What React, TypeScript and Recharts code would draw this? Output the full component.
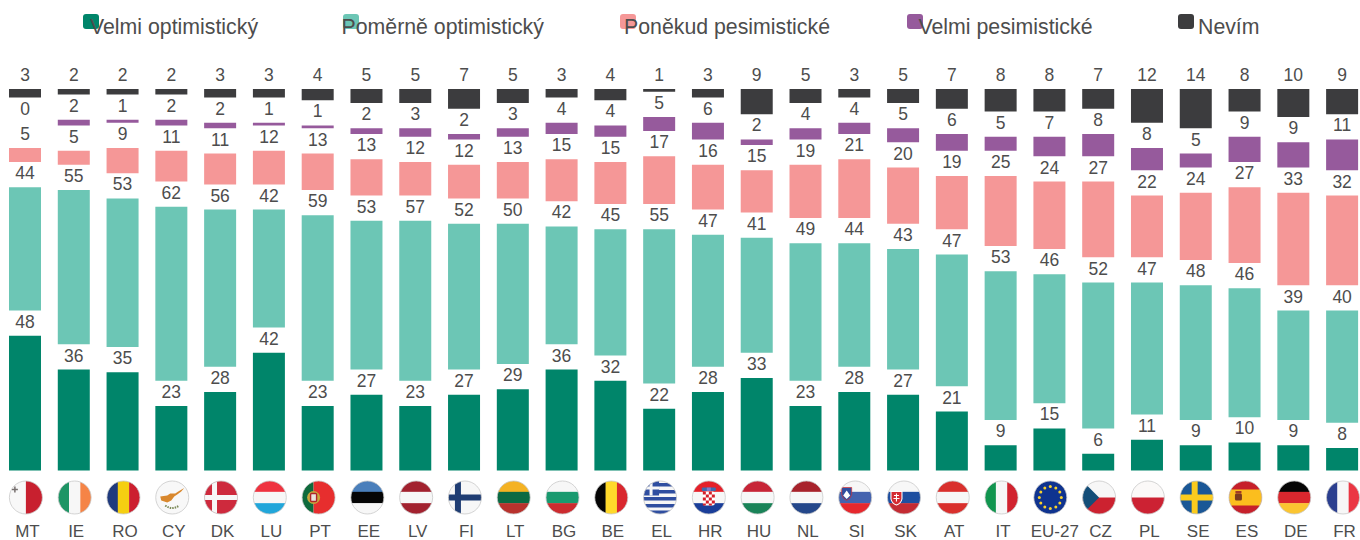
import { BarChart, Bar, XAxis, YAxis, Legend, LabelList } from "recharts";

const countries = ["MT","IE","RO","CY","DK","LU","PT","EE","LV","FI","LT","BG","BE","EL","HR","HU","NL","SI","SK","AT","IT","EU-27","CZ","PL","SE","ES","DE","FR"];
const veryOptimistic = [48,36,35,23,28,42,23,27,23,27,29,36,32,22,28,33,23,28,27,21,9,15,6,11,9,10,9,8];
const fairlyOptimistic = [44,55,53,62,56,42,59,53,57,52,50,42,45,55,47,41,49,44,43,47,53,46,52,47,48,46,39,40];
const fairlyPessimistic = [5,5,9,11,11,12,13,13,12,12,13,15,15,17,16,15,19,21,20,19,25,24,27,22,24,27,33,32];
const veryPessimistic = [0,2,1,2,2,1,1,2,3,2,3,4,4,5,6,2,4,4,5,6,5,7,8,8,5,9,9,11];
const dontKnow = [3,2,2,2,3,3,4,5,5,7,5,3,4,1,3,9,5,3,5,7,8,8,7,12,14,8,10,9];

// empty band between the stacked segments, it holds the value labels
const GAP = 9;

const data = countries.map((code, i) => ({
  code,
  a: veryOptimistic[i],
  gap1: GAP,
  b: fairlyOptimistic[i],
  gap2: GAP,
  c: fairlyPessimistic[i],
  gap3: GAP,
  d: veryPessimistic[i],
  gap4: GAP,
  e: dontKnow[i],
}));

const TEXT = "#4d4d4d";
const FONT = "'Liberation Sans', Arial, sans-serif";

const legendPlace: Record<string, { icon: number; text: number }> = {
  "Velmi optimistický": { icon: 83, text: 90 },
  "Poměrně optimistický": { icon: 343, text: 341.5 },
  "Poněkud pesimistické": { icon: 620, text: 624 },
  "Velmi pesimistické": { icon: 907, text: 918.5 },
  "Nevím": { icon: 1178, text: 1198 },
};

function ChartLegend({ payload }: any) {
  return (
    <div style={{ position: "relative", height: 0 }}>
      {(payload || []).filter((p: any) => legendPlace[p.value]).map((p: any) => (
        <div key={p.value}>
          <div style={{ position: "absolute", left: legendPlace[p.value].icon, top: 14, width: 16, height: 15, borderRadius: 3, background: p.color }} />
          <div style={{ position: "absolute", left: legendPlace[p.value].text, top: 15, fontSize: 21.3, lineHeight: "24px", color: TEXT, fontFamily: FONT, whiteSpace: "nowrap" }}>{p.value}</div>
        </div>
      ))}
    </div>
  );
}

const horizontal: Record<string, string[]> = {
  LU: ["#ef3340", "#f7f7f7", "#21a6da"],
  EE: ["#4a7fbb", "#050505", "#f7f7f7"],
  LV: ["#a2222f", "#f7f7f7", "#a2222f"],
  LT: ["#f4b223", "#0b6a43", "#b8322d"],
  BG: ["#f7f7f7", "#199a6f", "#cc2b2f"],
  HR: ["#e5202a", "#f7f7f7", "#1a3e99"],
  HU: ["#c72537", "#f7f7f7", "#1a8358"],
  NL: ["#a8232c", "#f7f7f7", "#24478a"],
  SI: ["#f7f7f7", "#4463af", "#e6282e"],
  SK: ["#f7f7f7", "#1e4fa0", "#c42b33"],
  AT: ["#d9302d", "#f7f7f7", "#d9302d"],
  DE: ["#050505", "#d9272e", "#fbc531"],
};
const vertical: Record<string, string[]> = {
  IE: ["#1e9565", "#f7f7f7", "#f58446"],
  RO: ["#1f3a7d", "#f5cf11", "#cc1f2f"],
  BE: ["#050505", "#ffd92b", "#d9272e"],
  IT: ["#11954f", "#f7f7f7", "#d1232f"],
  FR: ["#2b3f8f", "#f7f7f7", "#eb3643"],
};

function Stripes({ colors, dir }: { colors: string[]; dir: "h" | "v" }) {
  return (
    <>
      {colors.map((c, i) =>
        dir === "h" ? (
          <rect key={i} x={-17} y={-17 + (i * 34) / 3} width={34} height={34 / 3 + 0.3} fill={c} />
        ) : (
          <rect key={i} x={-17 + (i * 34) / 3} y={-17} width={34 / 3 + 0.3} height={34} fill={c} />
        )
      )}
    </>
  );
}

function Cross({ bg, fg, x, w }: { bg: string; fg: string; x: number; w: number }) {
  return (
    <>
      <rect x={-17} y={-17} width={34} height={34} fill={bg} />
      <rect x={x} y={-17} width={w} height={34} fill={fg} />
      <rect x={-17} y={-w / 2} width={34} height={w} fill={fg} />
    </>
  );
}

function FlagArt({ code }: { code: string }) {
  if (horizontal[code]) {
    return (
      <>
        <Stripes colors={horizontal[code]} dir="h" />
        {code === "HR" && (
          <>
            <rect x={-6} y={-6} width={12} height={14} rx={2.5} fill="#fff" />
            {[-6, -3, 0, 3, 6].map((y, r) =>
              [-6, -3, 0, 3].filter((_, c) => (c + r) % 2 === 0).map((x) => (
                <rect key={`${x}${y}`} x={x} y={y} width={3} height={Math.min(3, 8 - y)} fill="#d5202a" />
              ))
            )}
            <rect x={-7} y={-10} width={14} height={3.4} rx={1} fill="#3c6bb0" />
            <rect x={-2} y={-10} width={4} height={3.4} fill="#a8d" opacity={0.6} />
          </>
        )}
        {code === "SI" && (
          <>
            <path d="M-13.5,-10 h10 v7 q-1,4.5 -5,6 q-4,-1.5 -5,-6 z" fill="#2f4ea0" stroke="#d33" strokeWidth={0.7} />
            <path d="M-12,-2 l3.5,-5 l3.5,5 l-3.5,3.5 z" fill="#fff" />
          </>
        )}
        {code === "SK" && (
          <>
            <path d="M-13,-6 h11 v7.5 q-1,4.5 -5.5,6 q-4.5,-1.5 -5.5,-6 z" fill="#d42b33" stroke="#fff" strokeWidth={1.1} />
            <path d="M-7.5,-4 v8 M-10,-2 h5 M-10.5,1 h6" stroke="#fff" strokeWidth={1.1} />
          </>
        )}
      </>
    );
  }
  if (vertical[code]) return <Stripes colors={vertical[code]} dir="v" />;
  switch (code) {
    case "MT":
      return (
        <>
          <rect x={-17} y={-17} width={17} height={34} fill="#f8f8f8" />
          <rect x={0} y={-17} width={17} height={34} fill="#c8202f" />
          <path d="M-11,-11 v6 M-14,-8 h6" stroke="#77706f" strokeWidth={1.5} />
        </>
      );
    case "CY":
      return (
        <>
          <rect x={-17} y={-17} width={34} height={34} fill="#f8f8f8" />
          <path d="M-12,-1 l7,-1 l3,-2 l5,0 l3,-2 l6,-3.5 l-3,3.5 l-4,3 l-3,2 l-3,4 l-4,2 l-3,-1 l-3,-1 z" fill="#d9882e" />
          <path d="M-7,8 q7,5 14,0" fill="none" stroke="#7c8a58" strokeWidth={2} strokeDasharray="1.5 1" />
        </>
      );
    case "DK":
      return <Cross bg="#ce2a3d" fg="#f7f7f7" x={-9} w={5} />;
    case "FI":
      return <Cross bg="#f7f7f7" fg="#1f3d73" x={-10} w={6} />;
    case "SE":
      return <Cross bg="#1a5796" fg="#fbcb1e" x={-5} w={6} />;
    case "PT":
      return (
        <>
          <rect x={-17} y={-17} width={12} height={34} fill="#0e6a3c" />
          <rect x={-5} y={-17} width={22} height={34} fill="#e72e2e" />
          <circle cx={-5} cy={0} r={6.5} fill="#c8a83c" />
          <rect x={-8} y={-4} width={6} height={8} rx={1} fill="#e9e4dc" stroke="#b0252a" strokeWidth={1.4} />
        </>
      );
    case "EL":
      return (
        <>
          <rect x={-17} y={-17} width={34} height={34} fill="#f7f7f7" />
          {[-14.5, -7.5, -0.5, 6.5, 13].map((y) => (
            <rect key={y} x={-17} y={y} width={34} height={3.5} fill="#2f4ea0" />
          ))}
          <rect x={-17} y={-17} width={16} height={15} fill="#2f4ea0" />
          <path d="M-9,-17 v15 M-17,-9.5 h16" stroke="#f7f7f7" strokeWidth={3} />
        </>
      );
    case "EU-27":
      return (
        <>
          <rect x={-17} y={-17} width={34} height={34} fill="#0f338f" />
          {Array.from({ length: 12 }).map((_, i) => (
            <circle key={i} cx={11 * Math.cos((i * Math.PI) / 6)} cy={11 * Math.sin((i * Math.PI) / 6)} r={1.5} fill="#f8d12c" />
          ))}
        </>
      );
    case "CZ":
      return (
        <>
          <rect x={-17} y={-17} width={34} height={17} fill="#f7f7f7" />
          <rect x={-17} y={0} width={34} height={17} fill="#cc2230" />
          <path d="M-17,-17 L0,0 L-17,17 z" fill="#144e78" />
        </>
      );
    case "PL":
      return (
        <>
          <rect x={-17} y={-17} width={34} height={17} fill="#fbf9f8" />
          <rect x={-17} y={0} width={34} height={17} fill="#cc2233" />
        </>
      );
    case "ES":
      return (
        <>
          <rect x={-17} y={-17} width={34} height={34} fill="#c6202b" />
          <rect x={-17} y={-8} width={34} height={16} fill="#fbbe1e" />
          <rect x={-10.5} y={-4} width={7} height={7} rx={1.5} fill="#7a3a1e" />
          <rect x={-10} y={-6.5} width={6} height={2.5} fill="#a33a25" />
        </>
      );
    default:
      return null;
  }
}

function CountryTick({ x, y, payload }: any) {
  const code: string = payload.value;
  return (
    <g>
      <g transform={`translate(${x + 0.5},${y + 27})`}>
        <clipPath id={`flag-${code}`}>
          <circle r={16.5} />
        </clipPath>
        <g clipPath={`url(#flag-${code})`}>
          <FlagArt code={code} />
        </g>
        <circle r={16.5} fill="none" stroke="#c9c9c9" strokeWidth={0.8} />
      </g>
      {/* the long EU-27 label sits a bit further right than the others */}
      <text x={x + (code === "EU-27" ? 5 : 2)} y={y + 67} textAnchor="middle" fontSize={17} fontFamily={FONT} fill={TEXT}>
        {code}
      </text>
    </g>
  );
}

const labelStyle = { fontSize: 17.5, fontFamily: FONT, fill: TEXT };

export default function App() {
  return (
    <div style={{ position: "absolute", left: 0, top: 0, width: 1360, height: 540, overflow: "hidden", background: "#fff" }}>
      <BarChart
        width={1367.6}
        height={540}
        data={data}
        barSize={32}
        margin={{ top: 89, right: 0.7, bottom: 0, left: 1 }}
      >
        <XAxis dataKey="code" height={69.5} interval={0} axisLine={false} tickLine={false} tickSize={0} tickMargin={0} tick={<CountryTick />} />
        <YAxis hide domain={[0, 136]} />
        <Legend verticalAlign="top" content={<ChartLegend />} wrapperStyle={{ top: 0, left: 0, width: 1360 }} />
        <Bar dataKey="a" name="Velmi optimistický" stackId="s" fill="#00856a" isAnimationActive={false}>
          <LabelList dataKey="a" position="top" offset={8} style={labelStyle} />
        </Bar>
        <Bar dataKey="gap1" stackId="s" fill="none" legendType="none" isAnimationActive={false} />
        <Bar dataKey="b" name="Poměrně optimistický" stackId="s" fill="#6cc6b5" isAnimationActive={false}>
          <LabelList dataKey="b" position="top" offset={8} style={labelStyle} />
        </Bar>
        <Bar dataKey="gap2" stackId="s" fill="none" legendType="none" isAnimationActive={false} />
        <Bar dataKey="c" name="Poněkud pesimistické" stackId="s" fill="#f59797" isAnimationActive={false}>
          <LabelList dataKey="c" position="top" offset={8} style={labelStyle} />
        </Bar>
        <Bar dataKey="gap3" stackId="s" fill="none" legendType="none" isAnimationActive={false} />
        <Bar dataKey="d" name="Velmi pesimistické" stackId="s" fill="#965a9c" isAnimationActive={false} />
        {/* labels for d hang on the gap above it: a zero-height bar drops its own label */}
        <Bar dataKey="gap4" stackId="s" fill="none" legendType="none" isAnimationActive={false}>
          <LabelList dataKey="d" position="insideBottom" offset={8} style={labelStyle} />
        </Bar>
        <Bar dataKey="e" name="Nevím" stackId="s" fill="#3c3c3e" isAnimationActive={false}>
          <LabelList dataKey="e" position="top" offset={8} style={labelStyle} />
        </Bar>
      </BarChart>
    </div>
  );
}
